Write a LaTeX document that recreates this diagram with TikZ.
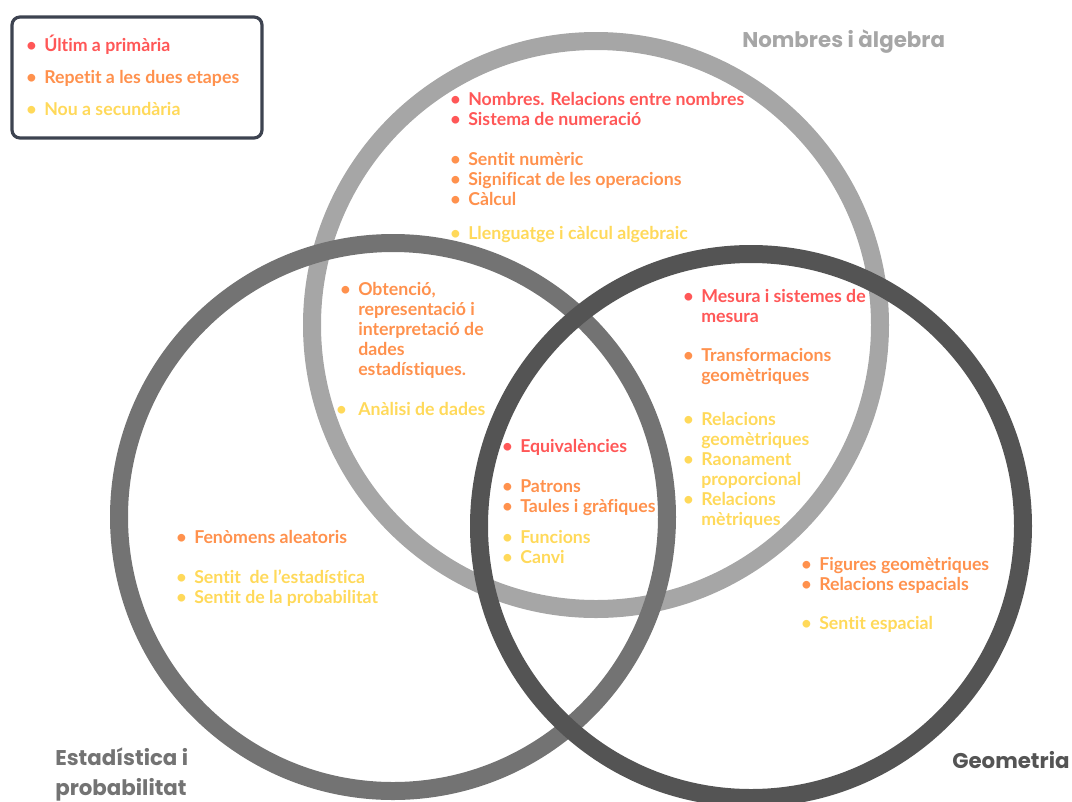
\documentclass[tikz,border=0pt]{standalone}
\usepackage{fontspec}
\setmainfont{Lato}[Ligatures={NoCommon,NoRare}]
\newfontfamily\headfont{Poppins}
\usepackage{array}
\definecolor{cred}{HTML}{FF5757}
\definecolor{corange}{HTML}{FF914D}
\definecolor{cyellow}{HTML}{FFD95A}
\definecolor{gtop}{HTML}{A6A6A6}
\definecolor{gleft}{HTML}{737373}
\definecolor{gright}{HTML}{545454}
\definecolor{legborder}{HTML}{3D4350}
\newcommand\bitems[1]{\begin{tabular}[t]{@{}p{13.5pt}@{}l@{}}#1\end{tabular}}
\newcommand\bu{\textbullet}
\tikzset{
  ring/.style={line width=13.5pt},
  grp/.style={anchor=base west, inner sep=0pt, font=\bfseries\fontsize{13.3}{15}\selectfont},
  head/.style={inner sep=0pt, font=\headfont\bfseries\fontsize{16}{22.5}\selectfont, align=left}
}
\begin{document}
\begin{tikzpicture}[x=0.75pt,y=-0.75pt]
\useasboundingbox (0,0) rectangle (1072,801);
% circles
\draw[ring, gtop] (596,325) circle[radius=284];
\draw[ring, gleft] (393,517) circle[radius=274];
\draw[ring, gright] (751,526) circle[radius=272];
% legend
\draw[legborder, line width=2.4pt, rounded corners=6pt, fill=white] (12,17) rectangle (262,138);
\node[grp, text=cred] (l1) at (26,51) {\bitems{\bu & Últim a primària\\}};
\node[grp, text=corange] (l2) at (26,83) {\bitems{\bu & Repetit a les dues etapes\\}};
\node[grp, text=cyellow] (l3) at (26,115) {\bitems{\bu & Nou a secundària\\}};
% headers
\node[head, text=gtop, anchor=west] (hn) at (742,42) {Nombres i àlgebra};
\node[head, text=gleft, anchor=north west] (he) at (55,748) {Estadística i\\probabilitat};
\node[head, text=gright, anchor=west] (hg) at (952,760) {Geometria};
% top circle only
\node[grp, text=cred] (t1) at (450,105) {\bitems{\bu & Nombres. Relacions entre nombres\\ \bu & Sistema de numeració\\}};
\node[grp, text=corange] (t2) at (450,165) {\bitems{\bu & Sentit numèric\\ \bu & Significat de les operacions\\ \bu & Càlcul\\}};
\node[grp, text=cyellow] (t3) at (450,239) {\bitems{\bu & Llenguatge i càlcul algebraic\\}};
% top & left
\node[grp, text=corange] (tl1) at (340,295) {\bitems{\bu & Obtenció,\\ & representació i\\ & interpretació de\\ & dades\\ & estadístiques.\\}};
\node[grp, text=cyellow] (tl2) at (336,415) {\bitems{\bu &\hspace{3pt}Anàlisi de dades\\}};
% top & right
\node[grp, text=cred] (tr1) at (683,302) {\bitems{\bu & Mesura i sistemes de\\ & mesura\\}};
\node[grp, text=corange] (tr2) at (683,361) {\bitems{\bu & Transformacions\\ & geomètriques\\}};
\node[grp, text=cyellow] (tr3) at (683,425) {\bitems{\bu & Relacions\\ & geomètriques\\ \bu & Raonament\\ & proporcional\\ \bu & Relacions\\ & mètriques\\}};
% centre
\node[grp, text=cred] (c1) at (502,452) {\bitems{\bu & Equivalències\\}};
\node[grp, text=corange] (c2) at (502,492) {\bitems{\bu & Patrons\\ \bu & Taules i gràfiques\\}};
\node[grp, text=cyellow] (c3) at (502,543) {\bitems{\bu & Funcions\\ \bu & Canvi\\}};
% left only
\node[grp, text=corange] (e1) at (176,543) {\bitems{\bu & Fenòmens aleatoris\\}};
\node[grp, text=cyellow] (e2) at (176,583) {\bitems{\bu & Sentit\ \ de l’estadística\\ \bu & Sentit de la probabilitat\\}};
% right only
\node[grp, text=corange] (g1) at (801,570) {\bitems{\bu & Figures geomètriques\\ \bu & Relacions espacials\\}};
\node[grp, text=cyellow] (g2) at (801,629) {\bitems{\bu & Sentit espacial\\}};
\end{tikzpicture}
\end{document}
